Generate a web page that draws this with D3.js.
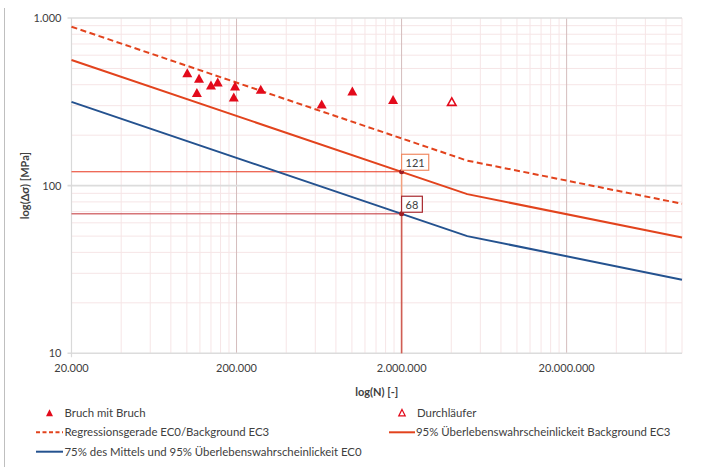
<!DOCTYPE html>
<html>
<head>
<meta charset="utf-8">
<script src="https://cdn.jsdelivr.net/npm/d3@7"></script>
<style>
  body { margin: 0; background: #fff; }
  svg text { font-family: Lato, "Open Sans", sans-serif; fill: #404040; }
</style>
</head>
<body>
<div id="chart"></div>
<script>
// fatigue test results (N, stress range in MPa)
var bruchN = [100600, 118500, 115000, 140000, 153800, 195800, 192400, 280400, 656000, 1006000, 1776000];
var bruchS = [472, 437, 359, 399, 415, 393, 338, 376, 307, 367, 327];
var durchN = [4028000];
var durchS = [317];

// S-N curves, knee at 5.000.000
var curveN = [20000, 5000000, 100000000];
var regression = [887, 141, 78];
var background95 = [562, 89, 49];
var ec0Curve = [316, 50, 27.5];

// reading at 2.000.000
var refN = 2000000;
var refValues = [121, 68];

var xTicks = [20000, 200000, 2000000, 20000000];
var yTicks = [10, 100, 1000];

var W = 714, H = 467;
var margin = { top: 18, right: 32, bottom: 113.7, left: 71.5 };

var fmt = function(v) { return d3.format(",")(v).replace(/,/g, "."); };

var svg = d3.select("#chart").append("svg")
  .attr("width", W)
  .attr("height", H);

// chart border (left edge only visible)
svg.append("line")
  .attr("x1", 4.5).attr("x2", 4.5)
  .attr("y1", 8).attr("y2", H)
  .attr("stroke", "#bfbfbf");

var x = d3.scaleLog().domain([20000, 100000000]).range([margin.left, W - margin.right]);
var y = d3.scaleLog().domain([10, 1000]).range([H - margin.bottom, margin.top]);

var x0 = x.range()[0], x1 = x.range()[1];
var y0 = y.range()[0], y1 = y.range()[1];

// minor grid
var minorX = [];
xTicks.forEach(function(b) {
  for (var k = 2; k <= 9; k++) { if (b * k <= 100000000) minorX.push(b * k); }
});
var minorY = [];
[10, 100].forEach(function(b) {
  for (var k = 2; k <= 9; k++) minorY.push(b * k);
});

var grid = svg.append("g");
grid.selectAll(".mx").data(minorX).enter().append("line")
  .attr("x1", function(d) { return x(d); }).attr("x2", function(d) { return x(d); })
  .attr("y1", y1).attr("y2", y0)
  .attr("stroke", "#f6e5e6").attr("stroke-width", 1);
grid.selectAll(".my").data(minorY).enter().append("line")
  .attr("x1", x0).attr("x2", x1)
  .attr("y1", function(d) { return y(d); }).attr("y2", function(d) { return y(d); })
  .attr("stroke", "#f6e5e6").attr("stroke-width", 1);

// major grid
grid.selectAll(".Mx").data(xTicks.slice(1)).enter().append("line")
  .attr("x1", function(d) { return x(d); }).attr("x2", function(d) { return x(d); })
  .attr("y1", y1).attr("y2", y0)
  .attr("stroke", "#d4bcbc").attr("stroke-width", 1);
grid.selectAll(".My").data(yTicks).enter().append("line")
  .attr("x1", x0 - 4).attr("x2", x1)
  .attr("y1", function(d) { return y(d); }).attr("y2", function(d) { return y(d); })
  .attr("stroke", "#dcdcdc").attr("stroke-width", 1.6);
grid.append("line")
  .attr("x1", x0).attr("x2", x0).attr("y1", y1).attr("y2", y0 + 4)
  .attr("stroke", "#d9d9d9").attr("stroke-width", 1.2);

// tick labels
svg.selectAll(".ylab").data(yTicks).enter().append("text")
  .attr("x", x0 - 10)
  .attr("y", function(d) { return y(d); })
  .attr("dy", "0.35em")
  .attr("text-anchor", "end")
  .style("font-size", "11px")
  .text(fmt);

svg.selectAll(".xlab").data(xTicks).enter().append("text")
  .attr("x", function(d) { return x(d); })
  .attr("y", y0 + 15)
  .attr("dy", "0.35em")
  .attr("text-anchor", "middle")
  .style("font-size", "11px")
  .text(fmt);

// axis titles
svg.append("text")
  .attr("x", (x0 + x1) / 2).attr("y", 392)
  .attr("dy", "0.35em")
  .attr("text-anchor", "middle")
  .style("font-size", "11px").style("font-weight", "bold")
  .text("log(N) [-]");

svg.append("text")
  .attr("transform", "translate(25," + y(100) + ") rotate(-90)")
  .attr("dy", "0.35em")
  .attr("text-anchor", "middle")
  .style("font-size", "11px").style("font-weight", "bold")
  .text("log(Δσ) [MPa]");

// reference lines at 2.000.000
var refColors = ["#e8341c", "#c8464a"];
svg.append("line")
  .attr("x1", x0).attr("x2", x(refN))
  .attr("y1", y(refValues[0])).attr("y2", y(refValues[0]))
  .attr("stroke", refColors[0]).attr("stroke-width", 1);
svg.append("line")
  .attr("x1", x0).attr("x2", x(refN))
  .attr("y1", y(refValues[1])).attr("y2", y(refValues[1]))
  .attr("stroke", refColors[1]).attr("stroke-opacity", 0.75).attr("stroke-width", 1.5);
svg.append("line")
  .attr("x1", x(refN)).attr("x2", x(refN))
  .attr("y1", y(refValues[0])).attr("y2", y0)
  .attr("stroke", "#f3a07e").attr("stroke-width", 1.5);
svg.append("line")
  .attr("x1", x(refN)).attr("x2", x(refN))
  .attr("y1", y(refValues[1])).attr("y2", y0)
  .attr("stroke", "#b8313a").attr("stroke-opacity", 0.6).attr("stroke-width", 1.5);

// curves
var line = d3.line()
  .x(function(d) { return x(d[0]); })
  .y(function(d) { return y(d[1]); });

function curve(vals) { return curveN.map(function(n, i) { return [n, vals[i]]; }); }

svg.append("path").attr("d", line(curve(ec0Curve)))
  .attr("fill", "none").attr("stroke", "#24528f").attr("stroke-width", 2);
svg.append("path").attr("d", line(curve(background95)))
  .attr("fill", "none").attr("stroke", "#e2431d").attr("stroke-width", 2);
svg.append("path").attr("d", line(curve(regression)))
  .attr("fill", "none").attr("stroke", "#e2431d").attr("stroke-width", 2)
  .attr("stroke-dasharray", "6,3.5");

// intersection dots + value labels
var labelBorders = ["#f08a63", "#a8282e"];
refValues.forEach(function(v, i) {
  svg.append("circle")
    .attr("cx", x(refN)).attr("cy", y(v)).attr("r", 2.5)
    .attr("fill", "#a01e24");
  var t = svg.append("text")
    .attr("x", x(refN) + 4).attr("y", y(v) - 9)
    .attr("dy", "0.35em")
    .style("font-size", "11px")
    .text(v);
  var bb = t.node().getBBox();
  svg.insert("rect", "text:last-of-type")
    .attr("x", x(refN)).attr("y", y(v) - 17.5)
    .attr("width", bb.width + 8).attr("height", 16)
    .attr("fill", "#fff")
    .attr("stroke", labelBorders[i]).attr("stroke-width", 1.2);
  t.raise();
});

// markers
function tri(cx, cy, w, h) {
  return "M" + cx + "," + (cy - h / 2) + "L" + (cx + w / 2) + "," + (cy + h / 2) + "L" + (cx - w / 2) + "," + (cy + h / 2) + "Z";
}
var markRed = "#e30a1b";
svg.selectAll(".bruch").data(bruchN).enter().append("path")
  .attr("d", function(d, i) { return tri(x(d), y(bruchS[i]), 10, 9); })
  .attr("fill", markRed);
svg.selectAll(".durch").data(durchN).enter().append("path")
  .attr("d", function(d, i) { return tri(x(d), y(durchS[i]), 8.5, 7.5); })
  .attr("fill", "#fff").attr("stroke", markRed).attr("stroke-width", 1.6);

// legend
var leg = svg.append("g").style("font-size", "11.4px");
var rows = [412.7, 432.3, 451.7];
var col2 = 389;

leg.append("path").attr("d", tri(49.5, rows[0], 7, 7)).attr("fill", markRed);
leg.append("text").attr("x", 64.5).attr("y", rows[0]).attr("dy", "0.35em").text("Bruch mit Bruch");
leg.append("path").attr("d", tri(col2 + 13, rows[0], 6.5, 6.5))
  .attr("fill", "#fff").attr("stroke", markRed).attr("stroke-width", 1.2);
leg.append("text").attr("x", col2 + 28).attr("y", rows[0]).attr("dy", "0.35em").text("Durchläufer");

leg.append("line").attr("x1", 36).attr("x2", 63).attr("y1", rows[1]).attr("y2", rows[1])
  .attr("stroke", "#e2431d").attr("stroke-width", 2).attr("stroke-dasharray", "4,2.5");
leg.append("text").attr("x", 64.5).attr("y", rows[1]).attr("dy", "0.35em").text("Regressionsgerade EC0/Background EC3");
leg.append("line").attr("x1", col2).attr("x2", col2 + 26).attr("y1", rows[1]).attr("y2", rows[1])
  .attr("stroke", "#e2431d").attr("stroke-width", 2);
leg.append("text").attr("x", col2 + 27).attr("y", rows[1]).attr("dy", "0.35em").text("95% Überlebenswahrscheinlickeit Background EC3");

leg.append("line").attr("x1", 36).attr("x2", 63).attr("y1", rows[2]).attr("y2", rows[2])
  .attr("stroke", "#24528f").attr("stroke-width", 2);
leg.append("text").attr("x", 64.5).attr("y", rows[2]).attr("dy", "0.35em").text("75% des Mittels und 95% Überlebenswahrscheinlickeit EC0");
</script>
</body>
</html>
